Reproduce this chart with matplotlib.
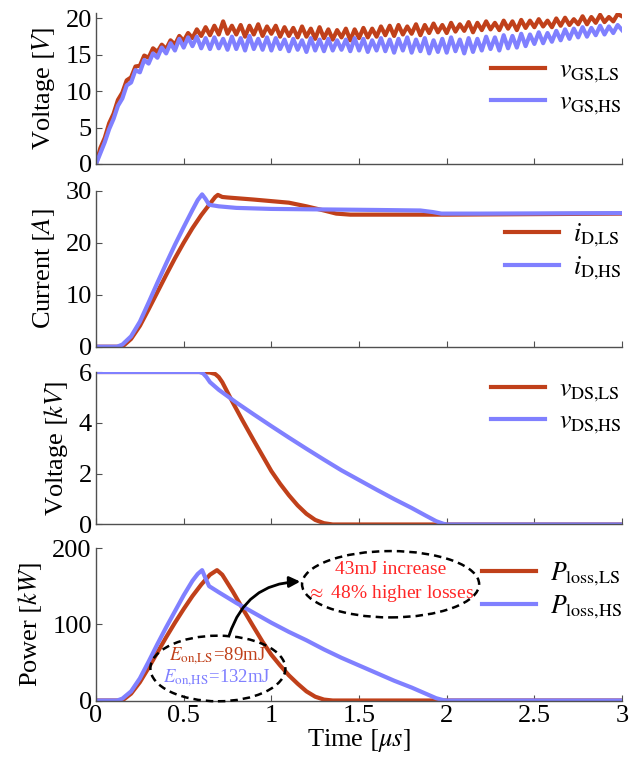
import numpy as np
import matplotlib
matplotlib.use("Agg")
import matplotlib.pyplot as plt
from matplotlib.patches import Ellipse

plt.rcParams['font.family'] = ['Liberation Serif', 'DejaVu Serif']
plt.rcParams['mathtext.fontset'] = 'stix'

RED = '#C0401A'
BLUE = '#8080FF'
ANN_RED = '#FF2626'

# ---------------- data ----------------
# gate-source voltages (sampled every 25 ns)
t_gs = np.linspace(0, 3, 121)
vgs_ls = [0.0, 2.2, 3.6, 5.6, 6.9, 8.8, 9.8, 11.5, 11.9, 13.4, 13.5, 14.9, 14.6, 15.9, 15.4, 16.4,
          15.8, 17.0, 16.4, 17.6, 16.9, 18.0, 17.3, 18.5, 17.6, 18.8, 17.7, 19.0, 17.8, 19.6,
          17.9, 19.0, 17.8, 19.1, 17.5, 19.0, 17.8, 19.2, 17.6, 18.9, 17.9, 19.0, 17.5, 18.8,
          17.6, 18.7, 17.4, 18.9, 17.5, 18.6, 17.2, 18.8, 17.3, 18.5, 17.1, 18.4, 17.4, 18.6,
          17.0, 18.5, 17.3, 18.7, 17.4, 18.6, 17.5, 18.9, 17.7, 19.0, 17.6, 19.1, 17.8, 18.9,
          17.9, 19.2, 17.7, 19.1, 18.0, 19.3, 18.1, 19.1, 18.0, 19.4, 18.2, 19.2, 18.3, 19.5,
          18.1, 19.4, 18.4, 19.6, 18.5, 19.4, 18.4, 19.7, 18.6, 19.6, 18.4, 19.8, 18.7, 19.7,
          18.8, 19.9, 18.9, 19.7, 18.8, 20.0, 19.0, 20.1, 19.1, 19.9, 19.2, 20.3, 19.2, 20.2,
          19.4, 20.5, 19.5, 20.2, 19.6, 20.6, 20.3]
vgs_hs = [0.0, 1.5, 3.0, 4.8, 6.2, 8.0, 9.0, 10.8, 11.2, 12.9, 12.6, 14.3, 13.8, 15.2, 14.6, 16.0,
          15.2, 16.6, 15.6, 17.2, 16.0, 17.4, 16.2, 17.5, 15.9, 17.3, 15.8, 17.4, 15.9, 17.2,
          15.7, 17.5, 15.8, 17.3, 15.6, 17.6, 15.8, 17.2, 15.7, 17.4, 15.6, 17.3, 15.8, 17.1,
          15.5, 17.2, 15.7, 17.0, 15.4, 17.3, 15.6, 17.1, 15.5, 17.2, 15.6, 17.0, 15.7, 17.1,
          15.5, 17.3, 15.6, 17.2, 15.4, 17.0, 15.6, 17.3, 15.5, 17.1, 15.3, 17.2, 15.6, 17.4,
          15.3, 17.1, 15.5, 17.3, 15.2, 17.0, 15.4, 17.2, 15.3, 17.4, 15.5, 17.1, 15.2, 17.3,
          15.4, 17.2, 15.6, 17.5, 15.8, 17.4, 15.6, 17.7, 15.9, 17.6, 16.0, 17.9, 16.2, 17.8,
          16.5, 18.1, 16.6, 18.0, 16.8, 18.3, 17.0, 18.5, 17.2, 18.6, 17.4, 18.8, 17.5, 18.7,
          17.7, 19.0, 17.8, 18.9, 18.0, 19.1, 18.4]

# drain currents [A]
t_id_ls = [0, 0.13, 0.16, 0.20, 0.25, 0.30, 0.35, 0.40, 0.45, 0.50, 0.55, 0.60, 0.65, 0.68, 0.695,
           0.72, 0.75, 0.90, 1.10, 1.20, 1.30, 1.37, 1.45, 2.00, 2.50, 3.00]
id_ls = [0, 0, 0.3, 1.5, 4.0, 7.2, 10.5, 13.8, 17.0, 20.0, 22.8, 25.3, 27.5, 28.8, 29.2,
         28.8, 28.7, 28.3, 27.7, 27.0, 26.2, 25.6, 25.4, 25.4, 25.5, 25.6]
t_id_hs = [0, 0.12, 0.15, 0.20, 0.25, 0.30, 0.35, 0.40, 0.45, 0.50, 0.55, 0.58, 0.605, 0.625,
           0.645, 0.70, 0.80, 1.00, 1.30, 1.60, 1.85, 1.92, 1.97, 2.20, 3.00]
id_hs = [0, 0, 0.4, 2.0, 4.8, 8.5, 12.3, 16.0, 19.6, 23.0, 26.3, 28.2, 29.3, 28.4,
         27.3, 27.0, 26.7, 26.5, 26.4, 26.3, 26.2, 25.9, 25.6, 25.6, 25.7]

# drain-source voltages [kV]
t_vds_ls = [0, 0.60, 0.65, 0.68, 0.70, 0.72, 0.75, 0.78, 0.835, 0.90, 0.95, 1.00, 1.05, 1.10,
            1.15, 1.20, 1.25, 1.30, 1.35, 3.0]
vds_ls = [6.0, 6.0, 5.98, 5.92, 5.8, 5.6, 5.2, 4.8, 4.1, 3.3, 2.7, 2.1, 1.6, 1.15,
          0.75, 0.42, 0.18, 0.05, 0, 0]
t_vds_hs = [0, 0.59, 0.61, 0.63, 0.65, 0.70, 0.80, 0.90, 1.00, 1.10, 1.20, 1.30, 1.40, 1.50,
            1.60, 1.70, 1.80, 1.88, 1.94, 1.98, 2.0, 3.0]
vds_hs = [6.0, 6.0, 5.95, 5.8, 5.6, 5.3, 4.8, 4.33, 3.87, 3.42, 2.98, 2.55, 2.13, 1.75,
          1.37, 1.0, 0.65, 0.35, 0.13, 0.03, 0, 0]

# loss power [kW]
t_p_ls = [0, 0.13, 0.16, 0.20, 0.25, 0.30, 0.35, 0.40, 0.45, 0.50, 0.55, 0.60, 0.65, 0.69, 0.72,
          0.78, 0.835, 0.90, 0.95, 1.00, 1.05, 1.10, 1.15, 1.20, 1.25, 1.30, 1.35, 3.0]
p_ls = [0, 0, 1.8, 9, 24, 43, 63, 83, 102, 120, 137, 152, 165, 171, 165,
        143, 121, 96, 77, 60, 46, 33, 22, 12, 5, 1.2, 0, 0]
t_p_hs = [0, 0.12, 0.15, 0.20, 0.25, 0.30, 0.35, 0.40, 0.45, 0.50, 0.55, 0.58, 0.605, 0.625,
          0.645, 0.70, 0.80, 0.90, 1.00, 1.10, 1.20, 1.30, 1.40, 1.50, 1.60, 1.70, 1.80, 1.88,
          1.94, 1.98, 2.00, 3.0]
p_hs = [0, 0, 2.4, 12, 29, 51, 74, 96, 117, 138, 157, 166, 171, 160,
        150, 142, 128, 115, 102, 90, 79, 67, 56, 46, 36, 26, 17, 9,
        3, 0.5, 0, 0]

x_ticks = [0, 0.5, 1, 1.5, 2, 2.5, 3]
x_ticklabels = ['0', '0.5', '1', '1.5', '2', '2.5', '3']

# ---------------- figure ----------------
fig = plt.figure(figsize=(6.44, 7.62), dpi=100)
L, W = 0.1491, 0.8168
ax1 = fig.add_axes([L, 0.7848, W, 0.1986])
ax2 = fig.add_axes([L, 0.5450, W, 0.2047])
ax3 = fig.add_axes([L, 0.3117, W, 0.2001])
ax4 = fig.add_axes([L, 0.0807, W, 0.2001])

LW = 3.0
FS = 19

def style(ax, ylim, yticks, ylabel, legy):
    ax.set_xlim(0, 3)
    ax.set_ylim(*ylim)
    ax.set_yticks(yticks)
    ax.set_xticks(x_ticks)
    for s in ['top', 'right']:
        ax.spines[s].set_visible(False)
    for s in ['left', 'bottom']:
        ax.spines[s].set_color('#505050')
        ax.spines[s].set_linewidth(1.0)
    ax.tick_params(direction='in', length=4, width=0.8, color='#505050',
                   labelsize=FS, pad=3)
    ax.set_ylabel(ylabel, fontsize=FS, labelpad=6)
    ax.legend(loc='center right', bbox_to_anchor=(1.0, legy), frameon=False,
              fontsize=18.5, handlelength=2.1, handletextpad=0.55, labelspacing=0.22,
              borderaxespad=0, borderpad=0)

ax1.plot(t_gs, vgs_ls, color=RED, lw=LW, label=r'$v_{\mathrm{GS{,}LS}}$')
ax1.plot(t_gs, vgs_hs, color=BLUE, lw=LW, label=r'$v_{\mathrm{GS{,}HS}}$')
style(ax1, (0, 20.8), [0, 5, 10, 15, 20], r'Voltage $[V]$', 0.50)

ax2.plot(t_id_ls, id_ls, color=RED, lw=LW, label=r'$i_{\mathrm{D{,}LS}}$')
ax2.plot(t_id_hs, id_hs, color=BLUE, lw=LW, label=r'$i_{\mathrm{D{,}HS}}$')
style(ax2, (0, 30), [0, 10, 20, 30], r'Current $[A]$', 0.61)

ax3.plot(t_vds_ls, vds_ls, color=RED, lw=LW, label=r'$v_{\mathrm{DS{,}LS}}$')
ax3.plot(t_vds_hs, vds_hs, color=BLUE, lw=LW, label=r'$v_{\mathrm{DS{,}HS}}$')
style(ax3, (0, 6), [0, 2, 4, 6], r'Voltage $[kV]$', 0.77)

ax4.plot(t_p_ls, p_ls, color=RED, lw=LW, label=r'$P_{\mathrm{loss{,}LS}}$')
ax4.plot(t_p_hs, p_hs, color=BLUE, lw=LW, label=r'$P_{\mathrm{loss{,}HS}}$')
style(ax4, (0, 200), [0, 100, 200], r'Power $[kW]$', 0.72)
ax4.set_xticklabels(x_ticklabels)
ax4.set_xlabel(r'Time $[\mu s]$', fontsize=FS, labelpad=0)
for ax in (ax1, ax2, ax3):
    ax.tick_params(labelbottom=False)

# annotations
e1 = Ellipse((0.695, 42), 0.77, 86, fill=False, ls=(0, (3, 2)), lw=1.8, color='k',
             clip_on=False, zorder=5)
ax4.add_patch(e1)
e2 = Ellipse((1.68, 152.5), 1.01, 87, fill=False, ls=(0, (3, 2)), lw=1.8, color='k',
             clip_on=False, zorder=5)
ax4.add_patch(e2)
ax4.text(0.69, 58, r'$E_{\mathrm{on{,}LS}}$=89mJ', color=RED, ha='center', va='center', fontsize=13.5)
ax4.text(0.69, 29, r'$E_{\mathrm{on{,}HS}}$=132mJ', color=BLUE, ha='center', va='center', fontsize=13.5)
ax4.text(1.68, 172, '43mJ increase', color=ANN_RED, ha='center', va='center', fontsize=14)
ax4.text(1.68, 141, r'$\approx$ 48% higher losses', color=ANN_RED, ha='center', va='center', fontsize=14)
ax4.annotate('', xy=(1.165, 156), xytext=(0.76, 86),
             arrowprops=dict(arrowstyle='-|>', connectionstyle='arc3,rad=-0.35',
                             color='k', lw=2, mutation_scale=16, shrinkA=0, shrinkB=0))

fig.savefig('out.png', dpi=100)
